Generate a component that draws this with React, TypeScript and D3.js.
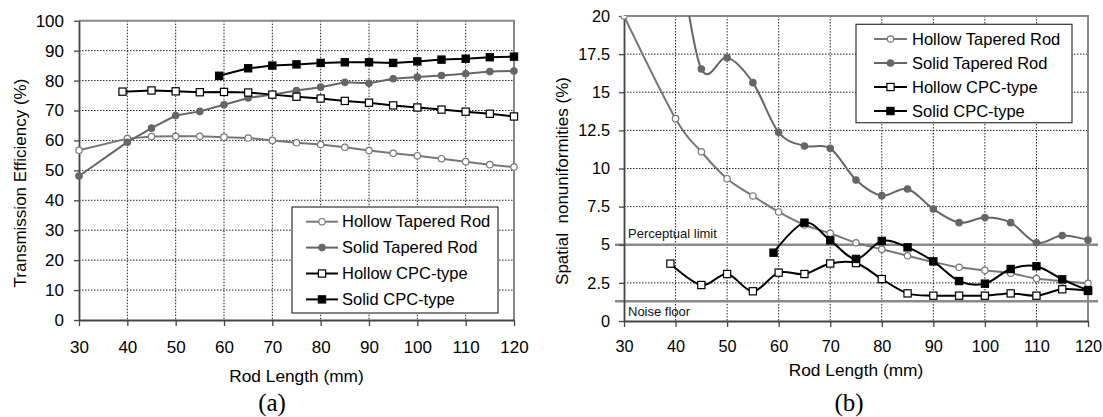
import React, { useEffect, useRef } from "react";
import * as d3 from "d3";

// rod lengths (mm)
const lenTapered = [30, 40, 45, 50, 55, 60, 65, 70, 75, 80, 85, 90, 95, 100, 105, 110, 115, 120];
const lenHollowCPC = [39, 45, 50, 55, 60, 65, 70, 75, 80, 85, 90, 95, 100, 105, 110, 115, 120];
const lenSolidCPC = [59, 65, 70, 75, 80, 85, 90, 95, 100, 105, 110, 115, 120];

// (a) transmission efficiency (%)
const effHollowTapered = [56.7, 60.6, 61.3, 61.4, 61.4, 61.1, 60.8, 60, 59.2, 58.6, 57.7, 56.6, 55.7, 54.9, 53.9, 52.9, 51.9, 51.1];
const effSolidTapered = [48.1, 59.4, 64.1, 68.3, 69.7, 71.9, 74.2, 75.3, 76.7, 77.8, 79.4, 79.1, 80.6, 81.2, 81.7, 82.3, 83, 83.2];
const effHollowCPC = [76.3, 76.7, 76.4, 76.1, 76.2, 76, 75.3, 74.6, 74, 73.2, 72.6, 71.7, 71, 70.3, 69.6, 68.9, 68];
const effSolidCPC = [81.6, 84.1, 85, 85.4, 85.9, 86.1, 86.1, 85.9, 86.4, 87, 87.3, 87.8, 88];

// (b) spatial nonuniformities (%)
const nuHollowTapered = [20, 13.27, 11.1, 9.33, 8.2, 7.15, 6.3, 5.75, 5.13, 4.7, 4.28, 3.87, 3.52, 3.32, 3.13, 2.78, 2.62, 2.47];
const nuSolidTapered = [32, 24, 16.52, 17.27, 15.63, 12.37, 11.48, 11.32, 9.25, 8.22, 8.66, 7.34, 6.45, 6.78, 6.45, 5.13, 5.6, 5.31];
const nuHollowCPC = [3.76, 2.36, 3.08, 1.95, 3.17, 3.08, 3.77, 3.8, 2.75, 1.81, 1.66, 1.66, 1.66, 1.81, 1.66, 2.08, 1.97];
const nuSolidCPC = [4.48, 6.45, 5.29, 4.07, 5.25, 4.83, 3.91, 2.62, 2.45, 3.41, 3.59, 2.73, 2.01];

const seriesNames = ["Hollow Tapered Rod", "Solid Tapered Rod", "Hollow CPC-type", "Solid CPC-type"];
const xTicks = [30, 40, 50, 60, 70, 80, 90, 100, 110, 120];
const yTicksA = [0, 10, 20, 30, 40, 50, 60, 70, 80, 90, 100];
const yTicksB = [0, 2.5, 5, 7.5, 10, 12.5, 15, 17.5, 20];
const perceptualLimit = 5;
const noiseFloor = 1.3;

const SANS = "'Liberation Sans', Arial, sans-serif";
const SERIF = "'Liberation Serif', 'Times New Roman', serif";
const GRAY = "#777";

const styles = [
  { color: GRAY, marker: "circle", open: true },
  { color: "#666", marker: "circle", open: false },
  { color: "#000", marker: "square", open: true },
  { color: "#000", marker: "square", open: false },
];

function marker(g: any, type: string, open: boolean, color: string, cx: number, cy: number) {
  if (type === "circle") {
    g.append("circle")
      .attr("cx", cx).attr("cy", cy).attr("r", 3.2)
      .attr("fill", open ? "#fff" : color)
      .attr("stroke", color).attr("stroke-width", 1.2);
  } else {
    g.append("rect")
      .attr("x", cx - 3.6).attr("y", cy - 3.6).attr("width", 7.2).attr("height", 7.2)
      .attr("fill", open ? "#fff" : color)
      .attr("stroke", color).attr("stroke-width", 1.2);
  }
}

function drawPanel(svg: any, cfg: any) {
  const { x0, x1, y0, y1, yMax, yTicks, yFmt, series, smooth, id, fs } = cfg;
  const x = d3.scaleLinear().domain([30, 120]).range([x0, x1]);
  const y = d3.scaleLinear().domain([0, yMax]).range([y1, y0]);
  const g = svg.append("g");

  // dotted grid
  g.append("g").selectAll("line").data(xTicks.slice(1, -1)).enter().append("line")
    .attr("x1", (d: number) => x(d)).attr("x2", (d: number) => x(d))
    .attr("y1", y0).attr("y2", y1)
    .attr("stroke", "#222").attr("stroke-width", 1).attr("stroke-dasharray", "1.5,1.5");
  g.append("g").selectAll("line").data(yTicks.slice(1, -1)).enter().append("line")
    .attr("x1", x0).attr("x2", x1)
    .attr("y1", (d: number) => y(d)).attr("y2", (d: number) => y(d))
    .attr("stroke", "#222").attr("stroke-width", 1).attr("stroke-dasharray", "1.5,1.5");

  // plot border top/right
  g.append("path")
    .attr("d", `M${x0},${y0}H${x1}V${y1}`)
    .attr("fill", "none").attr("stroke", "#888").attr("stroke-width", 2);

  if (cfg.refLines) {
    cfg.refLines.forEach((r: any) => {
      g.append("line")
        .attr("x1", x0 - 9).attr("x2", x1 + 10)
        .attr("y1", y(r.v)).attr("y2", y(r.v))
        .attr("stroke", "#8a8a8a").attr("stroke-width", 2.5);
      g.append("text")
        .attr("x", x0 + 4).attr("y", y(r.v) + r.dy)
        .attr("font-family", SANS).attr("font-size", 13).attr("fill", "#111")
        .text(r.label);
    });
  }

  // axes
  const ax = g.append("g").attr("transform", `translate(0,${y1})`)
    .call(d3.axisBottom(x).tickValues(xTicks).tickSize(6).tickSizeOuter(0));
  ax.selectAll("text").attr("y", cfg.xLabY).attr("font-size", fs).attr("font-family", SANS).attr("fill", "#000");
  const ay = g.append("g").attr("transform", `translate(${x0},0)`)
    .call(d3.axisLeft(y).tickValues(yTicks).tickFormat(yFmt).tickSize(5).tickSizeOuter(0));
  ay.selectAll("text").attr("x", -cfg.yLabDx).attr("font-size", fs).attr("font-family", SANS).attr("fill", "#000");
  [ax, ay].forEach((a: any) => {
    a.select(".domain").attr("stroke", "#444").attr("stroke-width", 1.8);
    a.selectAll(".tick line").attr("stroke", "#444").attr("stroke-width", 1.3);
  });

  // series
  svg.append("clipPath").attr("id", id).append("rect")
    .attr("x", 0).attr("y", y0).attr("width", 1103).attr("height", y1 - y0 + 20);
  const sg = svg.append("g").attr("clip-path", `url(#${id})`);
  series.forEach((s: any, i: number) => {
    const st = styles[i];
    const pts = s.xs.map((v: number, k: number) => [x(v), y(s.ys[k])]);
    const line = d3.line().curve(smooth ? d3.curveCardinal.tension(0) : d3.curveLinear);
    sg.append("path").attr("d", line(pts))
      .attr("fill", "none").attr("stroke", st.color).attr("stroke-width", 2);
    pts.forEach((p: number[]) => marker(sg, st.marker, st.open, st.color, p[0], p[1]));
  });

  // legend
  const L = cfg.legend;
  const lg = svg.append("g");
  lg.append("rect").attr("x", L.x).attr("y", L.y).attr("width", L.w).attr("height", L.h)
    .attr("fill", "#fff").attr("stroke", "#333").attr("stroke-width", 1.2);
  seriesNames.forEach((name, i) => {
    const st = styles[i];
    const ry = L.y + L.first + i * L.step;
    lg.append("line").attr("x1", L.x + L.s0).attr("x2", L.x + L.s1).attr("y1", ry).attr("y2", ry)
      .attr("stroke", st.color).attr("stroke-width", 2);
    marker(lg, st.marker, st.open, st.color, L.x + (L.s0 + L.s1) / 2, ry);
    lg.append("text").attr("x", L.x + L.tx).attr("y", ry).attr("dy", "0.35em")
      .attr("font-family", SANS).attr("font-size", 16.5).attr("fill", "#000").text(name);
  });

  // titles
  svg.append("text").attr("x", (x0 + x1) / 2).attr("y", cfg.xTitleY)
    .attr("text-anchor", "middle").attr("font-family", SANS).attr("font-size", 17.3)
    .text("Rod Length (mm)");
  svg.append("text")
    .attr("transform", `translate(${cfg.yTitleX},${cfg.yTitleY}) rotate(-90)`)
    .attr("text-anchor", "middle").attr("font-family", SANS).attr("font-size", 17)
    .style("white-space", "pre")
    .text(cfg.yTitle);
  svg.append("text").attr("x", cfg.capX).attr("y", 411)
    .attr("text-anchor", "middle").attr("font-family", SERIF).attr("font-size", 25)
    .text(cfg.caption);
}

const App = () => {
  const ref = useRef<SVGSVGElement>(null);

  useEffect(() => {
    const svg = d3.select(ref.current);
    svg.selectAll("*").remove();

    drawPanel(svg, {
      id: "clipA", x0: 79, x1: 514, y0: 20.7, y1: 320, yMax: 100, fs: 17,
      yTicks: yTicksA, yFmt: d3.format("d"), smooth: false,
      xLabY: 21, yLabDx: 15, xTitleY: 382, yTitleX: 26, yTitleY: 183,
      yTitle: "Transmission Efficiency (%)", caption: "(a)", capX: 272,
      series: [
        { xs: lenTapered, ys: effHollowTapered },
        { xs: lenTapered, ys: effSolidTapered },
        { xs: lenHollowCPC, ys: effHollowCPC },
        { xs: lenSolidCPC, ys: effSolidCPC },
      ],
      legend: { x: 292, y: 207, w: 206, h: 106, first: 14.7, step: 25.9, s0: 14, s1: 46, tx: 50 },
    });

    drawPanel(svg, {
      id: "clipB", x0: 624, x1: 1088, y0: 16, y1: 321, yMax: 20, fs: 16.3,
      yTicks: yTicksB, yFmt: (d: number) => String(d), smooth: true,
      xLabY: 19, yLabDx: 14, xTitleY: 375.5, yTitleX: 568, yTitleY: 181,
      yTitle: "Spatial  nonuniformities (%)", caption: "(b)", capX: 849,
      refLines: [
        { v: perceptualLimit, label: "Perceptual limit", dy: -7 },
        { v: noiseFloor, label: "Noise floor", dy: 15 },
      ],
      series: [
        { xs: lenTapered, ys: nuHollowTapered },
        { xs: lenTapered, ys: nuSolidTapered },
        { xs: lenHollowCPC, ys: nuHollowCPC },
        { xs: lenSolidCPC, ys: nuSolidCPC },
      ],
      legend: { x: 856, y: 24.3, w: 216, h: 98.4, first: 14.7, step: 24, s0: 18, s1: 51, tx: 56 },
    });
  }, []);

  return (
    <svg ref={ref} width={1103} height={417}
      style={{ position: "absolute", left: 0, top: 0, background: "#fff" }} />
  );
};

export default App;
